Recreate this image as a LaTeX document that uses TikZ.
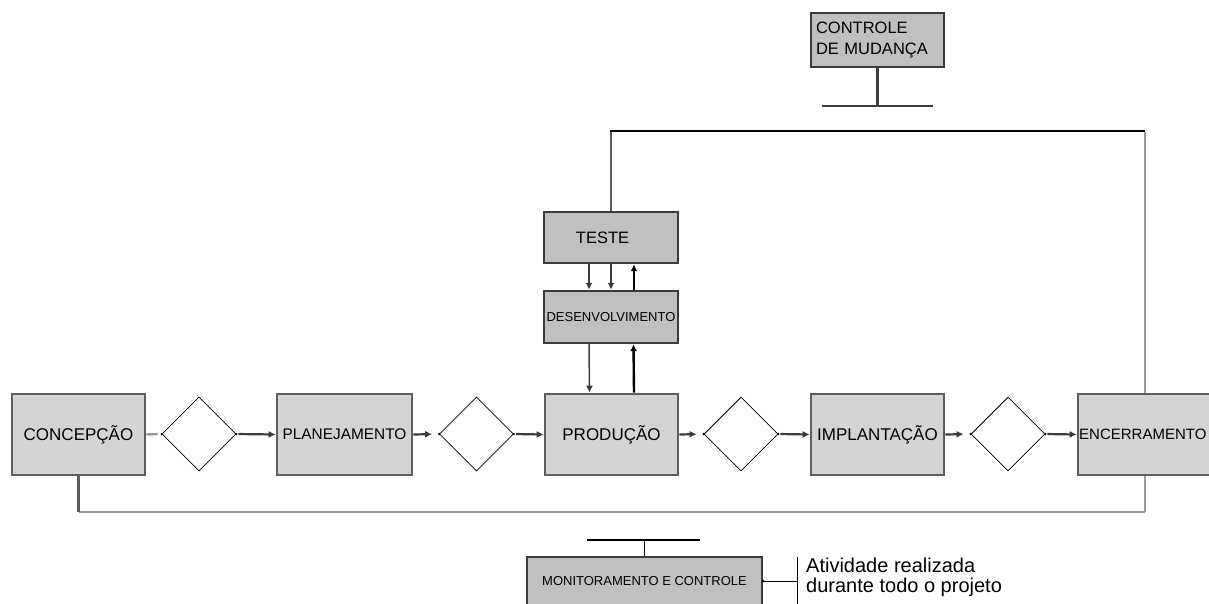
\documentclass[tikz,border=0pt]{standalone}
\usepackage{fontspec}
\setmainfont{Liberation Sans}
\usetikzlibrary{shapes.geometric,arrows.meta}

\definecolor{phasefill}{HTML}{D4D4D4}
\definecolor{phaseline}{HTML}{5E5E5E}
\definecolor{subfill}{HTML}{C0C0C0}
\definecolor{subline}{HTML}{3C3C3C}
\definecolor{linkgrey}{HTML}{3A3A3A}
\definecolor{loopdark}{HTML}{5A5A5A}
\definecolor{looplight}{HTML}{9A9A9A}

\tikzset{
  phase/.style={draw=phaseline, fill=phasefill, line width=2.6pt, rectangle,
    minimum height=81pt, inner sep=0pt, font=\fontsize{17}{20}\selectfont},
  subphase/.style={draw=subline, fill=subfill, line width=2.4pt, rectangle,
    inner sep=0pt, font=\fontsize{16.5}{20}\selectfont},
  gate/.style={diamond, draw=black, fill=white, line width=0.8pt,
    minimum width=74pt, minimum height=74pt, inner sep=0pt},
  tip/.style={-{Latex[length=7pt,width=7pt]}},
  flow/.style={tip, draw=linkgrey, line width=2.2pt},
  backflow/.style={tip, draw=black, line width=2.4pt},
  vertexdot/.style={fill=black},
}

\begin{document}
\begin{tikzpicture}[x=1pt,y=-1pt]
\useasboundingbox (0,0) rectangle (1209,603);

% project phases
\node[phase, minimum width=133pt] (conc) at (78.5,434.5) {CONCEPÇÃO};
\node[phase, minimum width=135pt, font=\fontsize{15.4}{18}\selectfont] (plan) at (344.5,434.5) {PLANEJAMENTO};
\node[phase, minimum width=133pt] (prod) at (611.5,434.5) {PRODUÇÃO};
\node[phase, minimum width=133pt] (impl) at (877.5,434.5) {IMPLANTAÇÃO};
\node[phase, minimum width=134pt] (enc) at (1145,434.5) {};
\node[anchor=west, inner sep=0pt, font=\fontsize{15}{18}\selectfont] (enctext) at (1079,434.5) {ENCERRAMENTO};

% decision gates
\node[gate] (g1) at (199,434) {};
\node[gate] (g2) at (476.5,434) {};
\node[gate] (g3) at (741,434) {};
\node[gate] (g4) at (1008,434) {};
\foreach \g in {g1,g2,g3,g4}{
  \fill[vertexdot] (\g.west) circle (1.3pt);
  \fill[vertexdot] (\g.east) circle (1.3pt);
}

% production sub-cycle
\node[subphase, minimum width=134pt, minimum height=51pt] (teste) at (611,237.5) {\hspace*{-17pt}TESTE};
\node[subphase, minimum width=134pt, minimum height=52pt, font=\fontsize{13}{16}\selectfont] (desenv) at (611,317) {DESENVOLVIMENTO};

% change control
\node[subphase, minimum width=133pt, minimum height=54pt, text width=123pt, align=left,
  font=\fontsize{16.5}{21}\selectfont] (cm) at (877.5,40) {CONTROLE\\DE MUDANÇA};
\coordinate (cmbar) at (877,106);
\coordinate (cmbarl) at (822,106);
\coordinate (cmbarr) at (933,106);

% monitoring and control
\node[subphase, minimum width=235pt, minimum height=48pt, font=\fontsize{13}{16}\selectfont] (mon) at (644.5,581) {MONITORAMENTO E CONTROLE};
\coordinate (monbar) at (644,540);
\coordinate (monbarl) at (587,540);
\coordinate (monbarr) at (700,540);
\coordinate (brace) at (797,581);
\coordinate (bracetop) at (797,557);
\coordinate (bracebot) at (797,606);
\node[anchor=north west, inner sep=0pt, align=left, font=\fontsize{20}{20}\selectfont] (note) at (806,557.5)
  {Atividade realizada\\durante todo o projeto};

% loop routing points
\coordinate (topline) at (0,131);
\coordinate (botline) at (0,512);

% main sequence
\draw[draw=looplight, line width=2.4pt, shorten >=4pt] (conc.east) -- (g1.west);
\draw[flow, shorten <=2pt] (g1.east) -- (plan.west);
\draw[flow, shorten >=7pt] (plan.east) -- (g2.west);
\draw[flow, shorten <=2pt] (g2.east) -- (prod.west);
\draw[flow, shorten >=7pt] (prod.east) -- (g3.west);
\draw[flow, shorten <=2pt] (g3.east) -- (impl.west);
\draw[flow, shorten >=7pt] (impl.east) -- (g4.west);
\draw[flow, shorten <=2pt] (g4.east) -- (enc.west);

% test / development exchanges
\draw[flow, line width=1.5pt] ([xshift=-22pt]teste.south) -- ([xshift=-22pt]desenv.north);
\draw[flow, line width=1.5pt] (teste.south) -- (desenv.north);
\draw[backflow] ([xshift=23pt]desenv.north) -- ([xshift=23pt]teste.south);
\draw[flow, line width=1.5pt] ([xshift=-22pt]desenv.south) -- ([xshift=-22pt]prod.north);
\draw[backflow] ([xshift=22.5pt]prod.north) -- ([xshift=22.5pt]desenv.south);

% change control loop
\draw[draw=loopdark, line width=2.2pt] (teste.north) -- (teste.north |- topline);
\draw[draw=black, line width=2.6pt] ([xshift=-1.1pt]teste.north |- topline) -- (enc.north |- topline);
\draw[draw=looplight, line width=2.2pt] ([yshift=-1.3pt]enc.north |- topline) -- (enc.north);
\draw[draw=subline, line width=2.4pt] (cm.south) -- (cm.south |- cmbar);
\draw[draw=subline, line width=2.4pt] (cmbarl) -- (cmbarr);

% monitoring loop
\draw[draw=looplight, line width=2.2pt] (enc.south) -- (enc.south |- botline);
\draw[draw=looplight, line width=2.2pt] (enc.south |- botline) -- (conc.south |- botline);
\draw[draw=loopdark, line width=2.2pt] (conc.south) -- (conc.south |- botline);
\draw[draw=black, line width=1.6pt] (mon.north) -- (mon.north |- monbar);
\draw[draw=black, line width=2pt] (monbarl) -- (monbarr);
\fill[black] (mon.east) circle (1.5pt);
\draw[draw=black, line width=1pt] (mon.east) -- (brace);
\draw[draw=black, line width=1pt] (bracetop) -- (bracebot);
\end{tikzpicture}
\end{document}
